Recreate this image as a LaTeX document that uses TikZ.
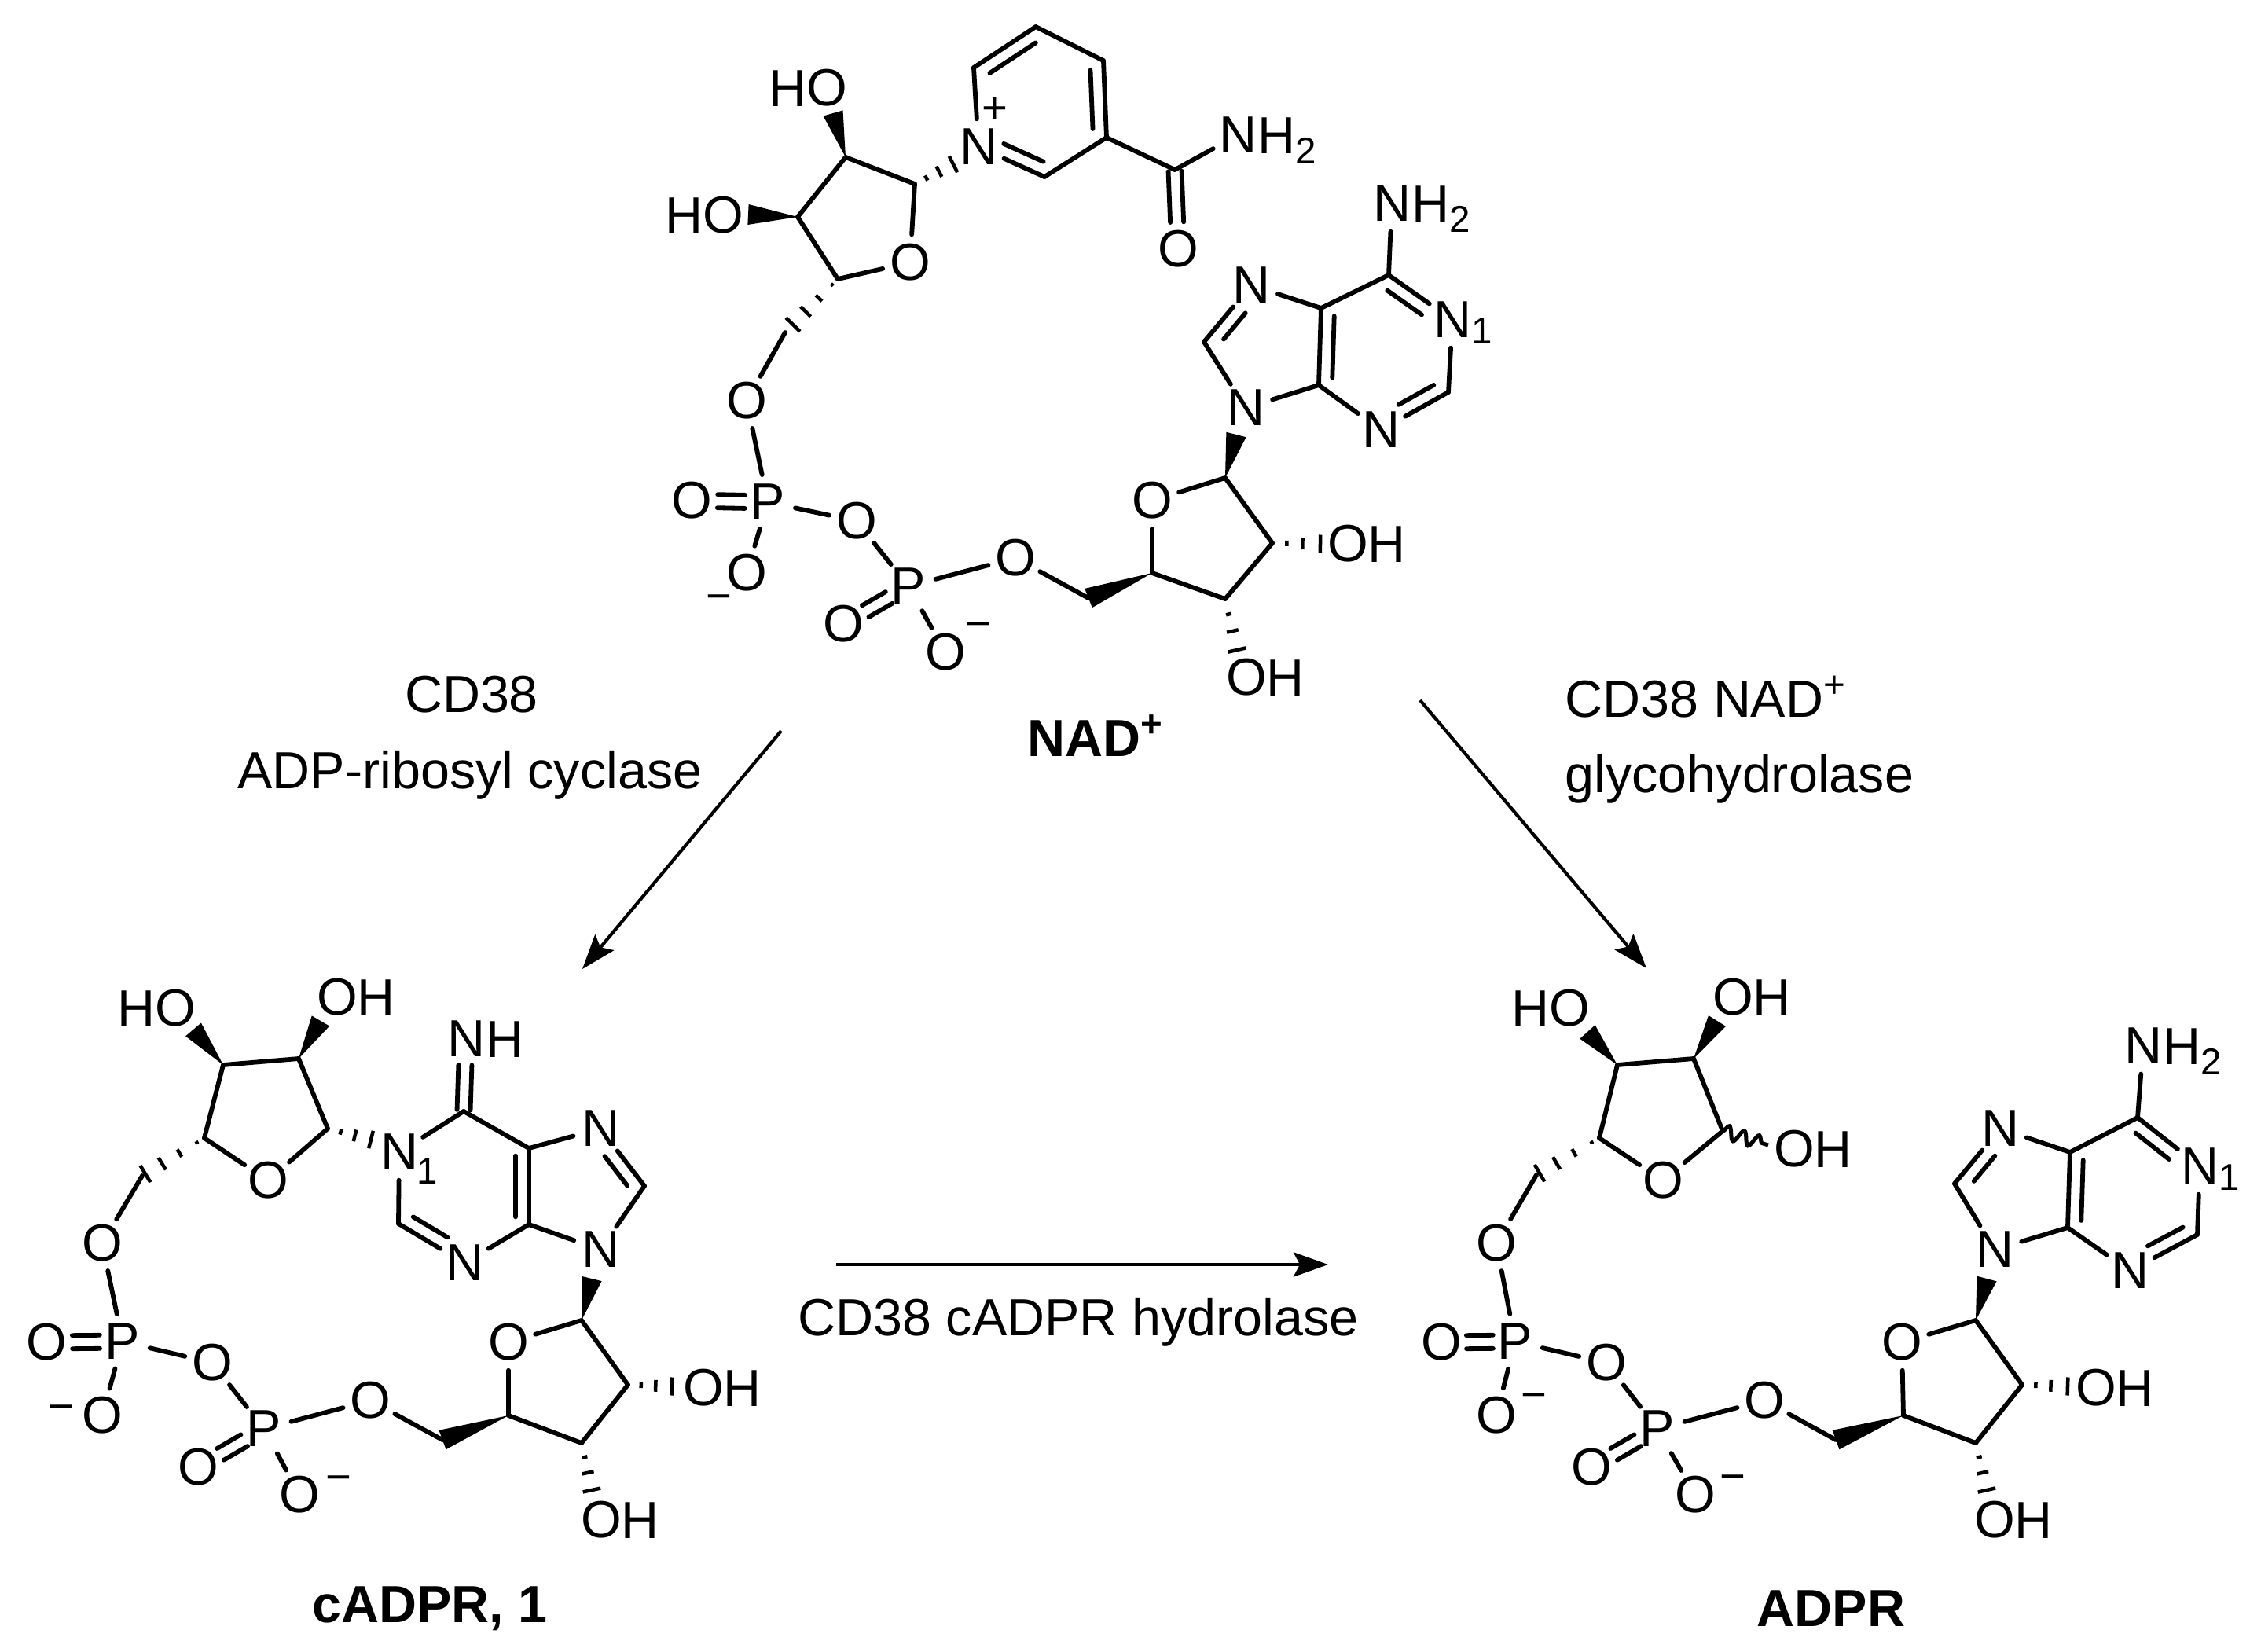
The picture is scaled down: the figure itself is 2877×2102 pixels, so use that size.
\documentclass[tikz,border=0pt]{standalone}
\usepackage{fontspec}
\setmainfont{Liberation Sans}
\usetikzlibrary{calc,arrows.meta,decorations.pathmorphing}
\newcommand{\bigf}{\fontsize{18.9}{22}\selectfont}
\newcommand{\smallf}{\fontsize{13.5}{15}\selectfont}
\newcommand{\chargef}{\fontsize{16}{17}\selectfont}
\newcommand{\chemsub}[1]{\raisebox{-3.6pt}{\smallf #1}}
\newcommand{\chemsup}[1]{\raisebox{7pt}{\smallf #1}}
\tikzset{
  atom/.style={circle,inner sep=0pt,minimum size=.7cm,font=\bigf},
  lab/.style={inner sep=0pt,font=\bigf},
  bondline/.style={line width=.058cm,line cap=round,black},
  hashline/.style={line width=.045cm,black},
  rxn/.style={line width=.042cm,black,-{Stealth[length=.44cm,width=.31cm,inset=.08cm]}}
}
\newcommand{\bonds}[1]{\foreach \u/\v in {#1} {\draw[bondline] (\u) -- (\v);}}
% ring-type double bond: #3 signed offset, #4/#5 fractions cut off the inner line
\newcommand{\dbl}[5]{%
  \draw[bondline] (#1) -- (#2);
  \draw[bondline] ($($(#1)!#4!(#2)$)!#3!90:(#2)$) -- ($($(#2)!#5!(#1)$)!#3!-90:(#1)$);}
% centred double bond
\newcommand{\cdbl}[4]{%
  \draw[bondline] ($($(#1)!#3!(#2)$)!.085cm!90:(#2)$) -- ($($(#2)!#4!(#1)$)!.085cm!-90:(#1)$);
  \draw[bondline] ($($(#1)!#3!(#2)$)!-.085cm!90:(#2)$) -- ($($(#2)!#4!(#1)$)!-.085cm!-90:(#1)$);}
\newcommand{\wedgeb}[2]{\fill[black] (#1) -- ($(#2)!.13cm!90:(#1)$) -- ($(#2)!.13cm!-90:(#1)$) -- cycle;}
\newcommand{\hashb}[2]{%
  \foreach \t/\w in {.3/.035,.63/.075,1/.115} {
    \draw[hashline] ($($(#1)!\t!(#2)$)!\w cm!90:(#1)$) -- ($($(#1)!\t!(#2)$)!\w cm!-90:(#1)$);}}
\newcommand{\hashl}[2]{%
  \foreach \t/\w in {.12/.02,.4/.055,.68/.09,.95/.125} {
    \draw[hashline] ($($(#1)!\t!(#2)$)!\w cm!90:(#1)$) -- ($($(#1)!\t!(#2)$)!\w cm!-90:(#1)$);}}
\newcommand{\hr}[3]{\node[lab,anchor=base west] (#1) at ($(#2)+(25,23.5)$) {#3};}
\newcommand{\hl}[3]{\node[lab,anchor=base east] (#1) at ($(#2)+(-25,23.5)$) {#3};}
\begin{document}
\begin{tikzpicture}[x=.01cm,y=-.01cm]
\useasboundingbox (0,0) rectangle (2877,2102);

%% ---------- NAD+ ----------
\node[atom] (nNp) at (1245,187) {N};
\node[lab] (nPlus) at (1266,140) {\chargef +};
\coordinate (n2) at (1239,86);
\coordinate (n3) at (1318,34);
\coordinate (n4) at (1404,77);
\coordinate (n5) at (1408,175);
\coordinate (n6) at (1329,225);
\coordinate (nCO) at (1495,216);
\node[atom] (nOc) at (1499,317) {O};
\node[atom] (nNa) at (1575,172) {N};
\hr{nNaH}{nNa}{H\chemsub{2}}
\coordinate (nc1) at (1164,234);
\node[atom] (nO4) at (1158,334) {O};
\coordinate (nc4) at (1066,355);
\coordinate (nc3) at (1015,276);
\coordinate (nc2) at (1076,200);
\node[atom] (nOa) at (1052,112) {O};
\hl{nHa}{nOa}{H}
\coordinate (nWa) at (1060,144);
\node[atom] (nOb) at (920,274) {O};
\hl{nHb}{nOb}{H}
\coordinate (nWb) at (952,273);
\coordinate (nHs) at (1213,209);
\coordinate (nc5) at (999,423);
\coordinate (nHt) at (1006,416);
\node[atom] (nO5) at (950,510) {O};
\node[atom] (nP1) at (977,639) {P};
\node[atom] (nP1d) at (880,637) {O};
\node[atom] (nP1m) at (950,729) {O};
\node[lab] (nM1) at (915,767) {\chargef −};
\node[atom] (nObr) at (1090,663) {O};
\node[atom] (nP2) at (1156,746) {P};
\node[atom] (nP2d) at (1073,794) {O};
\node[atom] (nP2m) at (1203,830) {O};
\node[lab] (nM2) at (1245,802) {\chargef −};
\node[atom] (nO5b) at (1292,710) {O};
\coordinate (nd5) at (1385,761);
\coordinate (nd4) at (1466,729);
\node[atom] (nO4b) at (1466,637) {O};
\coordinate (nd1) at (1559,608);
\coordinate (nd2) at (1619,691);
\coordinate (nd3) at (1559,762);
\node[atom] (nOr) at (1715,692) {O};
\hr{nHr}{nOr}{H}
\coordinate (nHr1) at (1680,692);
\node[atom] (nOd) at (1586,862) {O};
\hr{nHd}{nOd}{H}
\coordinate (nHd1) at (1574,827);
\node[atom] (nN9) at (1585,519) {N};
\coordinate (nW9) at (1573,553);
\coordinate (nC4) at (1678,490);
\coordinate (nC5) at (1681,392);
\node[atom] (nN7) at (1592,363) {N};
\coordinate (nC8) at (1532,435);
\coordinate (nC6) at (1767,350);
\node[atom] (nN1) at (1848,407) {N};
\node[lab,anchor=base west] (nS1) at ($(nN1)+(24,30)$) {\smallf 1};
\coordinate (nC2) at (1843,499);
\node[atom] (nN3) at (1757,547) {N};
\node[atom] (nNb) at (1771,259) {N};
\hr{nNbH}{nNb}{H\chemsub{2}}

\bonds{nNp/n2,n3/n4,n5/n6,n5/nCO,nCO/nNa,nc1/nO4,nO4/nc4,nc4/nc3,nc3/nc2,nc2/nc1,
  nc5/nO5,nO5/nP1,nP1/nP1m,nP1/nObr,nObr/nP2,nP2/nP2m,nP2/nO5b,nO5b/nd5,
  nd4/nO4b,nO4b/nd1,nd1/nd2,nd2/nd3,nd3/nd4,nN9/nC8,nN7/nC5,nC4/nN9,nC5/nC6,nN1/nC2,nN3/nC4,nC6/nNb}
\dbl{n2}{n3}{-.17cm}{.14}{.12}
\dbl{n4}{n5}{-.17cm}{.12}{.12}
\dbl{n6}{nNp}{-.17cm}{.1}{.3}
\cdbl{nCO}{nOc}{.02}{.34}
\cdbl{nP1}{nP1d}{.3}{.34}
\cdbl{nP2}{nP2d}{.3}{.34}
\dbl{nC8}{nN7}{-.17cm}{.2}{.34}
\dbl{nC5}{nC4}{.17cm}{.1}{.1}
\dbl{nC6}{nN1}{-.17cm}{.1}{.36}
\dbl{nC2}{nN3}{-.17cm}{.12}{.36}
\wedgeb{nc2}{nWa}
\wedgeb{nc3}{nWb}
\wedgeb{nd4}{nd5}
\wedgeb{nd1}{nW9}
\hashb{nc1}{nHs}
\hashl{nc4}{nHt}
\hashb{nd2}{nHr1}
\hashb{nd3}{nHd1}

%% ---------- cADPR ----------
\node[atom] (cOa) at (223,1283) {O};
\hl{cHa}{cOa}{H}
\node[atom] (cOb) at (429,1269) {O};
\hr{cHb}{cOb}{H}
\coordinate (cWa) at (246,1310);
\coordinate (cWb) at (408,1299);
\coordinate (cc3) at (284,1355);
\coordinate (cc2) at (380,1347);
\coordinate (cc1) at (417,1436);
\node[atom] (cO4) at (341,1502) {O};
\coordinate (cc4) at (260,1448);
\coordinate (cc5) at (181,1496);
\coordinate (cHs) at (472,1450);
\node[atom] (cO5) at (130,1582) {O};
\node[atom] (cP1) at (156,1707) {P};
\node[atom] (cP1d) at (59,1708) {O};
\node[atom] (cP1m) at (130,1801) {O};
\node[lab] (cM1) at (78,1798) {\chargef −};
\node[atom] (cObr) at (270,1734) {O};
\node[atom] (cP2) at (336,1818) {P};
\node[atom] (cP2d) at (252,1867) {O};
\node[atom] (cP2m) at (381,1902) {O};
\node[lab] (cM2) at (431,1888) {\chargef −};
\node[atom] (cO5b) at (471,1782) {O};
\coordinate (cd5) at (563,1832);
\coordinate (cd4) at (647,1801);
\node[atom] (cO4b) at (647,1708) {O};
\coordinate (cd1) at (740,1680);
\coordinate (cd2) at (799,1762);
\coordinate (cd3) at (740,1836);
\node[atom] (cOr) at (895,1766) {O};
\hr{cHr}{cOr}{H}
\coordinate (cHr1) at (855,1764);
\node[atom] (cOd) at (765,1934) {O};
\hr{cHd}{cOd}{H}
\coordinate (cHd1) at (753,1896);
\node[atom] (cN9) at (764,1590) {N};
\coordinate (cW9) at (753,1627);
\coordinate (cC8) at (820,1509);
\node[atom] (cN7) at (764,1436) {N};
\coordinate (cC5) at (673,1461);
\coordinate (cC4) at (673,1558);
\node[atom] (cN3) at (591,1607) {N};
\coordinate (cC2) at (507,1557);
\node[atom] (cN1) at (508,1466) {N};
\node[lab,anchor=base west] (cS1) at ($(cN1)+(22,40)$) {\smallf 1};
\coordinate (cC6) at (590,1414);
\node[atom] (cNH) at (593,1322) {N};
\hr{cNHh}{cNH}{H}

\bonds{cc3/cc2,cc2/cc1,cc1/cO4,cO4/cc4,cc4/cc3,cc5/cO5,cO5/cP1,cP1/cP1m,cP1/cObr,cObr/cP2,cP2/cP2m,cP2/cO5b,cO5b/cd5,
  cd4/cO4b,cO4b/cd1,cd1/cd2,cd2/cd3,cd3/cd4,cN1/cC6,cC6/cC5,cC5/cN7,cC8/cN9,cN9/cC4,cC4/cN3,cC2/cN1}
\cdbl{cP1}{cP1d}{.3}{.34}
\cdbl{cP2}{cP2d}{.3}{.34}
\cdbl{cC6}{cNH}{.02}{.36}
\dbl{cC5}{cC4}{-.17cm}{.1}{.1}
\dbl{cN7}{cC8}{-.17cm}{.34}{.15}
\dbl{cC2}{cN3}{.17cm}{.12}{.36}
\wedgeb{cc3}{cWa}
\wedgeb{cc2}{cWb}
\wedgeb{cd4}{cd5}
\wedgeb{cd1}{cW9}
\hashb{cc1}{cHs}
\hashl{cc4}{cc5}
\hashb{cd2}{cHr1}
\hashb{cd3}{cHd1}

%% ---------- ADPR ----------
\node[atom] (aOa) at (1997,1283) {O};
\hl{aHa}{aOa}{H}
\node[atom] (aOb) at (2205,1269) {O};
\hr{aHb}{aOb}{H}
\coordinate (aWa) at (2020,1313);
\coordinate (aWb) at (2185,1299);
\coordinate (ac3) at (2058,1355);
\coordinate (ac2) at (2155,1347);
\coordinate (ac1) at (2192,1439);
\node[atom] (aO4) at (2116,1502) {O};
\coordinate (ac4) at (2035,1448);
\coordinate (ac5) at (1955,1495);
\node[atom] (aOw) at (2283,1462) {O};
\hr{aHw}{aOw}{H}
\coordinate (aWv) at (2250,1457);
\node[atom] (aO5) at (1904,1582) {O};
\node[atom] (aP1) at (1928,1707) {P};
\node[atom] (aP1d) at (1834,1708) {O};
\node[atom] (aP1m) at (1904,1801) {O};
\node[lab] (aM1) at (1952,1783) {\chargef −};
\node[atom] (aObr) at (2044,1734) {O};
\node[atom] (aP2) at (2109,1818) {P};
\node[atom] (aP2d) at (2025,1867) {O};
\node[atom] (aP2m) at (2157,1902) {O};
\node[lab] (aM2) at (2205,1887) {\chargef −};
\node[atom] (aO5b) at (2245,1782) {O};
\coordinate (ad5) at (2336,1832);
\coordinate (ad4) at (2422,1801);
\node[atom] (aO4b) at (2420,1708) {O};
\coordinate (ad1) at (2514,1680);
\coordinate (ad2) at (2573,1762);
\coordinate (ad3) at (2514,1836);
\node[atom] (aOr) at (2667,1766) {O};
\hr{aHr}{aOr}{H}
\coordinate (aHr1) at (2631,1764);
\node[atom] (aOd) at (2538,1934) {O};
\hr{aHd}{aOd}{H}
\coordinate (aHd1) at (2528,1896);
\node[atom] (aN9) at (2538,1590) {N};
\coordinate (aW9) at (2528,1627);
\coordinate (aC8) at (2487,1506);
\node[atom] (aN7) at (2545,1436) {N};
\coordinate (aC5) at (2634,1466);
\coordinate (aC4) at (2631,1562);
\node[atom] (aN3) at (2710,1617) {N};
\coordinate (aC2) at (2796,1571);
\node[atom] (aN1) at (2799,1484) {N};
\node[lab,anchor=base west] (aS1) at ($(aN1)+(24,30)$) {\smallf 1};
\coordinate (aC6) at (2720,1422);
\node[atom] (aNb) at (2727,1331) {N};
\hr{aNbH}{aNb}{H\chemsub{2}}

\bonds{ac3/ac2,ac2/ac1,ac1/aO4,aO4/ac4,ac4/ac3,ac5/aO5,aO5/aP1,aP1/aP1m,aP1/aObr,aObr/aP2,aP2/aP2m,aP2/aO5b,aO5b/ad5,
  ad4/aO4b,aO4b/ad1,ad1/ad2,ad2/ad3,ad3/ad4,aN9/aC8,aN7/aC5,aC4/aN9,aC5/aC6,aN1/aC2,aN3/aC4,aC6/aNb}
\cdbl{aP1}{aP1d}{.3}{.34}
\cdbl{aP2}{aP2d}{.3}{.34}
\dbl{aC8}{aN7}{-.17cm}{.2}{.34}
\dbl{aC5}{aC4}{.17cm}{.1}{.1}
\dbl{aC6}{aN1}{-.17cm}{.1}{.36}
\dbl{aC2}{aN3}{-.17cm}{.12}{.36}
\draw[line width=.05cm,decorate,decoration={snake,segment length=.2cm,amplitude=.085cm}] (ac1) -- (aWv);
\wedgeb{ac3}{aWa}
\wedgeb{ac2}{aWb}
\wedgeb{ad4}{ad5}
\wedgeb{ad1}{aW9}
\hashl{ac4}{ac5}
\hashb{ad2}{aHr1}
\hashb{ad3}{aHd1}

%% ---------- arrows and labels ----------
\coordinate (arA1) at (994,930);
\coordinate (arA2) at (741,1233);
\coordinate (arB1) at (1807,891);
\coordinate (arB2) at (2095,1232);
\coordinate (arC1) at (1064,1609);
\coordinate (arC2) at (1690,1609);
\draw[rxn] (arA1) -- (arA2);
\draw[rxn] (arB1) -- (arB2);
\draw[rxn] (arC1) -- (arC2);
\node[lab] (tA1) at (600,884) {CD38};
\node[lab] (tA2) at (598,986) {ADP-ribosyl cyclase};
\node[lab,anchor=base west] (tB1) at (1991,912) {CD38 NAD\chemsup{+}};
\node[lab,anchor=base west] (tB2) at (1991,1008) {glycohydrolase};
\node[lab] (tC) at (1372,1682) {CD38 cADPR hydrolase};
\node[lab,font=\bigf\bfseries,anchor=base] (tNAD) at (1393,962) {NAD\chemsup{+}};
\node[lab,font=\bigf\bfseries] (tcADPR) at (547,2047) {cADPR, 1};
\node[lab,font=\bigf\bfseries] (tADPR) at (2330,2047) {ADPR};
\end{tikzpicture}
\end{document}
